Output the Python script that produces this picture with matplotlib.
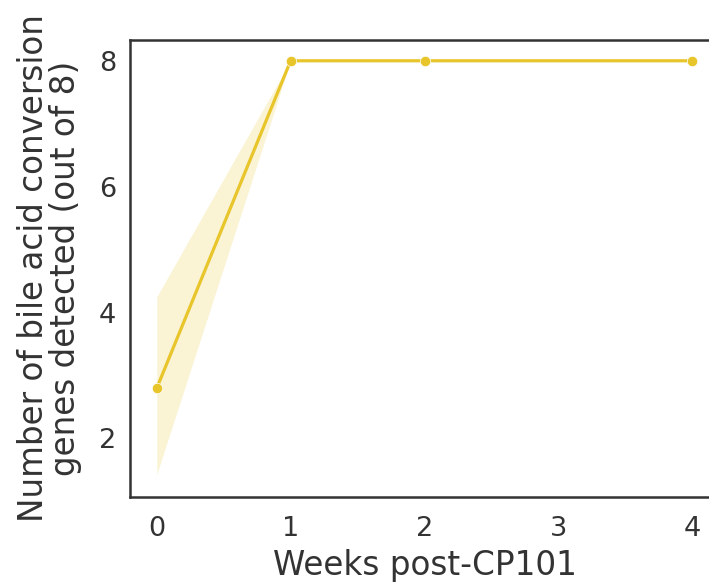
import matplotlib
matplotlib.use("Agg")
import matplotlib.pyplot as plt
import numpy as np

weeks = [0, 1, 2, 4]
mean_genes = [2.8, 8.0, 8.0, 8.0]
ci_low = [1.43, 8.0, 8.0, 8.0]
ci_high = [4.25, 8.0, 8.0, 8.0]
xticks = [0, 1, 2, 3, 4]
yticks = [2, 4, 6, 8]

color = "#e8c62b"
plt.rcParams['font.family'] = ['DejaVu Sans']

fig = plt.figure(figsize=(7.09, 5.85), dpi=100)
ax = fig.add_axes([130/709, 1 - 497/585, (719 - 130)/709, (497 - 40)/585])

ax.fill_between(weeks, ci_low, ci_high, color=color, alpha=0.2, linewidth=0)
ax.plot(weeks, mean_genes, color=color, lw=2.3, marker='o', markersize=7.5,
        markeredgecolor='white', markeredgewidth=0.5)

ax.set_xlim(-0.2, 4.2)
ax.set_ylim(1.07, 8.33)
ax.set_xticks(xticks)
ax.set_yticks(yticks)
ax.tick_params(axis='both', length=0, labelsize=19.5, colors='#333333')
ax.tick_params(axis='x', pad=14)
ax.tick_params(axis='y', pad=10)
for s in ['top', 'bottom', 'left', 'right']:
    ax.spines[s].set_color('#333333')
    ax.spines[s].set_linewidth(1.8)
ax.set_xlabel("Weeks post-CP101", fontsize=23.5, color='#333333', labelpad=5)
ax.set_ylabel("Number of bile acid conversion\ngenes detected (out of 8)", fontsize=23.5,
              color='#333333', labelpad=12, linespacing=0.95)

fig.savefig("out.png", dpi=100)
